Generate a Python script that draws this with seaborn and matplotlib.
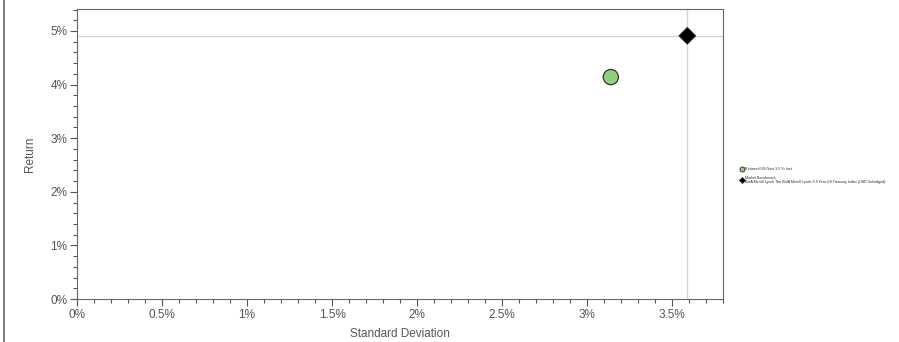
import pandas as pd
import seaborn as sns
import matplotlib.pyplot as plt
from matplotlib.lines import Line2D
from matplotlib.ticker import FuncFormatter, MultipleLocator

sns.set_style("white")
plt.rcParams['font.family'] = ['Liberation Sans', 'DejaVu Sans']

# data
names = ["Rebased US Govt 3-5 Yr Inst",
         "Market Benchmark:\nBofA Merrill Lynch The BofA Merrill Lynch 3-5 Year US Treasury Index (USD Unhedged)"]
std_dev = [3.14, 3.59]
returns = [4.14, 4.91]
colors = ["#8fd07f", "#000000"]
markers = ["o", "D"]

df = pd.DataFrame({"name": names, "std": std_dev, "ret": returns})

fig = plt.figure(figsize=(8.99, 3.42), dpi=100)
ax = fig.add_axes([77/899, 1-299/342, (723-77)/899, (299-9)/342])

# benchmark crosshair
ax.axhline(returns[1], color="#d4d4d4", lw=1, zorder=1)
ax.axvline(std_dev[1], color="#d4d4d4", lw=1, zorder=1)

sns.scatterplot(data=df, x="std", y="ret", hue="name", style="name", size="name",
                sizes={names[0]: 120, names[1]: 70},
                palette=colors, markers=markers, edgecolor="#222222",
                linewidth=0.8, ax=ax, zorder=3, legend=False)

ax.set_xlim(0, 3.8)
ax.set_ylim(0, 5.41)
ax.xaxis.set_major_locator(MultipleLocator(0.5))
ax.xaxis.set_minor_locator(MultipleLocator(0.1))
ax.yaxis.set_major_locator(MultipleLocator(1))
ax.yaxis.set_minor_locator(MultipleLocator(0.2))
fmt = FuncFormatter(lambda v, p: f"{v:g}%")
ax.xaxis.set_major_formatter(fmt)
ax.yaxis.set_major_formatter(fmt)
ax.tick_params(which="both", direction="out", color="#555555", labelcolor="#555555",
               labelsize=8.5, width=0.8)
ax.tick_params(which="major", length=5, bottom=True, left=True, pad=2)
ax.tick_params(which="minor", length=3, bottom=True, left=True)
for s in ax.spines.values():
    s.set_color("#666666")
    s.set_linewidth(0.8)

ax.set_xlabel("Standard Deviation", fontsize=8.5, color="#555555", labelpad=5)
ax.set_ylabel("Return", fontsize=8.5, color="#555555", labelpad=10)

handles = [Line2D([], [], ls="", marker=m, color=c, markeredgecolor="#222222",
                  markeredgewidth=0.6, markersize=ms)
           for m, c, ms in zip(markers, colors, [3.6, 3.0])]
ax.legend(handles, names, loc="center left", bbox_to_anchor=(1.022, 0.425), fontsize=2.6,
          frameon=False, handletextpad=0.3, labelspacing=1.3, handlelength=1.0)

# page border on the left
fig.add_artist(Line2D([4/899, 4/899], [0, 1], color="#666666", lw=1.2))

fig.savefig("out.png", dpi=100)
